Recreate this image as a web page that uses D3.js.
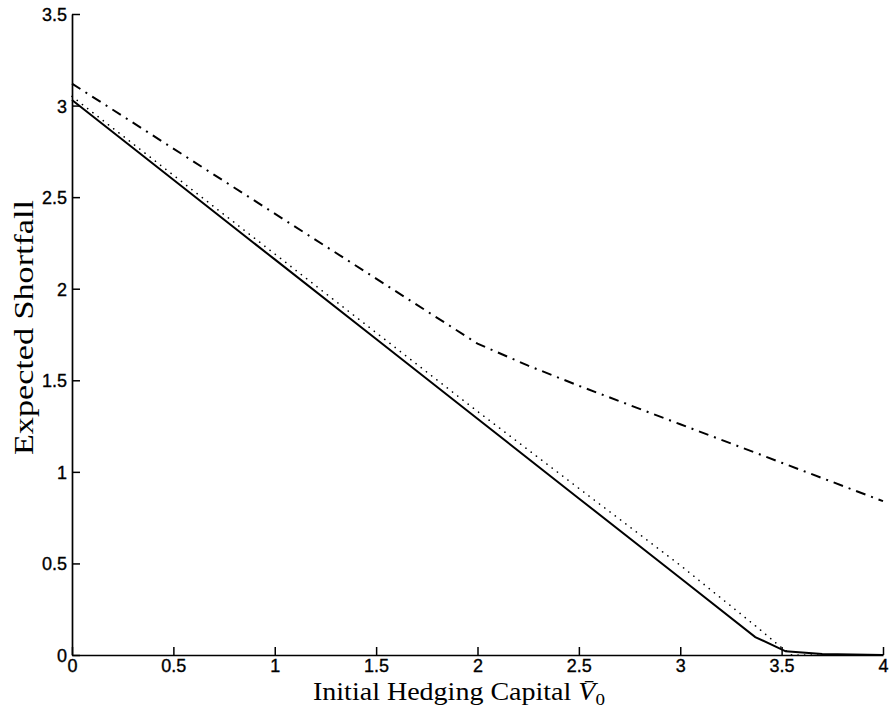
<!DOCTYPE html>
<html>
<head>
<meta charset="utf-8">
<script src="https://cdn.jsdelivr.net/npm/d3@7"></script>
<style>
  html, body { margin: 0; padding: 0; background: #fff; }
  svg { display: block; }
</style>
</head>
<body>
<svg id="chart" width="891" height="715"></svg>
<script>
// ---- data ----
const xTicks = [0, 0.5, 1, 1.5, 2, 2.5, 3, 3.5, 4];
const xTickLabels = ["0", "0.5", "1", "1.5", "2", "2.5", "3", "3.5", "4"];
const yTicks = [0, 0.5, 1, 1.5, 2, 2.5, 3, 3.5];
const yTickLabels = ["0", "0.5", "1", "1.5", "2", "2.5", "3", "3.5"];

const solidX = [0, 0.5, 1, 1.5, 2, 2.5, 3, 3.37, 3.52, 3.7, 4];
const solidY = [3.03, 2.595, 2.16, 1.725, 1.29, 0.855, 0.42, 0.098, 0.02, 0.005, 0];

const dottedX = [0, 0.5, 1, 1.5, 2, 2.5, 3, 3.37, 3.5, 3.55, 4];
const dottedY = [3.05, 2.62, 2.19, 1.76, 1.33, 0.91, 0.49, 0.16, 0.04, 0.0, 0];

const dashDotX = [0, 0.5, 1, 1.5, 2, 2.25, 2.5, 3, 3.5, 4];
const dashDotY = [3.12, 2.765, 2.41, 2.055, 1.70, 1.58, 1.47, 1.26, 1.05, 0.84];

const xLabel = "Initial Hedging Capital ";
const yLabel = "Expected Shortfall";

// ---- layout ----
const svg = d3.select("#chart");
const x = d3.scaleLinear().domain([0, 4]).range([72, 883]);
const y = d3.scaleLinear().domain([0, 3.5]).range([655, 14]);

const line = d3.line().x(d => x(d[0])).y(d => y(d[1]));
const zip = (a, b) => a.map((v, i) => [v, b[i]]);

// series
svg.append("path").datum(zip(dashDotX, dashDotY)).attr("d", line)
  .attr("fill", "none").attr("stroke", "#000").attr("stroke-width", 2)
  .attr("stroke-dasharray", "10,6,2,6");
svg.append("path").datum(zip(dottedX, dottedY)).attr("d", line)
  .attr("fill", "none").attr("stroke", "#000").attr("stroke-width", 1.6)
  .attr("stroke-linecap", "round")
  .attr("stroke-dasharray", "0.1,6.5");
svg.append("path").datum(zip(solidX, solidY)).attr("d", line)
  .attr("fill", "none").attr("stroke", "#000").attr("stroke-width", 2);

// axes
const xAxis = d3.axisBottom(x).tickValues(xTicks)
  .tickFormat((d, i) => xTickLabels[i]).tickSizeInner(-8).tickSizeOuter(0).tickPadding(4);
const yAxis = d3.axisLeft(y).tickValues(yTicks)
  .tickFormat((d, i) => yTickLabels[i]).tickSizeInner(-8).tickSizeOuter(0).tickPadding(5);

const gx = svg.append("g").attr("transform", `translate(0,${y(0)})`).call(xAxis);
const gy = svg.append("g").attr("transform", `translate(${x(0)},0)`).call(yAxis);

[gx, gy].forEach(g => {
  g.attr("font-size", null).attr("font-family", null);
  g.select(".domain").attr("stroke", "#000").attr("stroke-width", 1.7);
  g.selectAll(".tick line").attr("stroke", "#000").attr("stroke-width", 1.5);
  g.selectAll(".tick text").attr("fill", "#000")
    .attr("stroke", "#000").attr("stroke-width", 0.35)
    .style("font-family", "'Liberation Sans', Arial, sans-serif")
    .style("font-size", "18px");
});
gy.selectAll(".tick text").attr("dy", "0.36em");

// x label
const xl = svg.append("text")
  .attr("x", 313).attr("y", 700)
  .attr("text-anchor", "start")
  .style("font-family", "'Liberation Serif', 'Times New Roman', serif")
  .style("font-size", "25px")
  .attr("textLength", 292)
  .attr("lengthAdjust", "spacingAndGlyphs")
  .attr("fill", "#000");
xl.append("tspan").text(xLabel);
xl.append("tspan").style("font-style", "italic").text("V\u0304");
xl.append("tspan").attr("dy", 5).style("font-size", "17px").text("0");

// y label
svg.append("text")
  .attr("transform", `translate(33,${(200 + 455) / 2}) rotate(-90)`)
  .attr("text-anchor", "middle")
  .style("font-family", "'Liberation Serif', 'Times New Roman', serif")
  .style("font-size", "27px")
  .attr("textLength", 255)
  .attr("lengthAdjust", "spacingAndGlyphs")
  .attr("fill", "#000")
  .text(yLabel);
</script>
</body>
</html>
